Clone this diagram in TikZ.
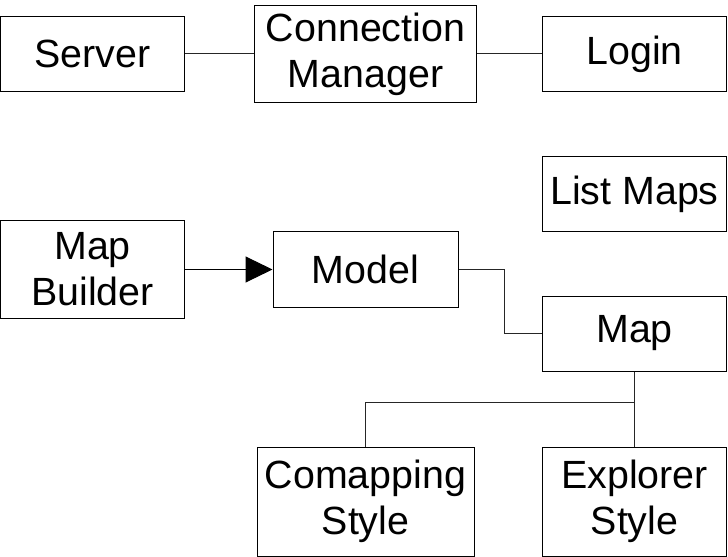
\documentclass[tikz,border=0pt]{standalone}
\usepackage{fontspec}
\setmainfont{Liberation Sans}
\usetikzlibrary{arrows.meta}
\begin{document}
\begin{tikzpicture}[x=1bp,y=-1bp,
  box/.style={draw=black,line width=1bp,rectangle,inner sep=0pt,align=center,
    font=\fontsize{39.5}{46}\selectfont},
  conn/.style={draw=black!85,line width=1bp}]
\useasboundingbox (0,0) rectangle (728,557);
\node[box,minimum width=184bp,minimum height=75bp] (server) at (92.5,54) {Server};
\node[box,minimum width=222bp,minimum height=97bp] (cm) at (365.5,54.5) {Connection\\Manager};
\node[box,minimum width=184bp,minimum height=75bp] (login) at (634.5,54) {Login};
\node[box,minimum width=184bp,minimum height=75bp] (listmaps) at (634.5,194.5) {List Maps};
\node[box,minimum width=184bp,minimum height=97bp] (mapbuilder) at (92.5,269.5) {Map\\Builder};
\node[box,minimum width=185bp,minimum height=75bp] (model) at (365.5,269.5) {Model};
\node[box,minimum width=184bp,minimum height=75bp] (map) at (634.5,333.5) {Map};
\node[box,minimum width=217bp,minimum height=109bp] (comapping) at (365.5,501.5) {Comapping\\Style};
\node[box,minimum width=184bp,minimum height=109bp] (explorer) at (634.5,501.5) {Explorer\\Style};
\draw[conn] (server.east) -- (server.east -| cm.west);
\draw[conn] (cm.east |- login.west) -- (login.west);
\draw[draw=black,line width=1bp,-{Triangle[length=27bp,width=26bp,fill=black]}] (mapbuilder.east) -- (model.west);
\draw[conn] (model.east) -- ++(46,0) |- (map.west);
\draw[conn] (map.south) -- ++(0,31) coordinate (j) -| (comapping.north);
\draw[conn] (j) -- (explorer.north);
\end{tikzpicture}
\end{document}
